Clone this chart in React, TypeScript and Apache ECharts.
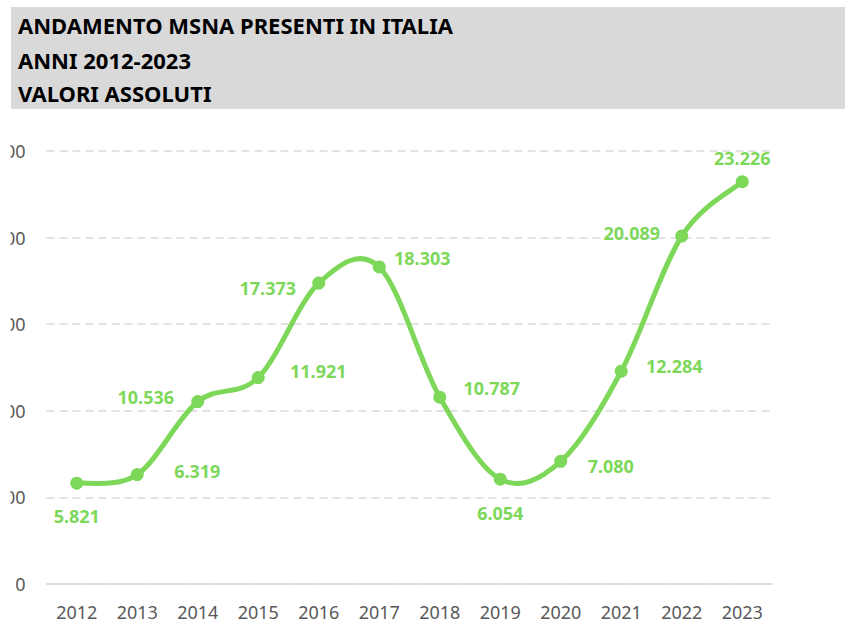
import React, { useEffect, useRef } from "react";
import * as echarts from "echarts";

const years = ["2012", "2013", "2014", "2015", "2016", "2017", "2018", "2019", "2020", "2021", "2022", "2023"];
const presenti = [5821, 6319, 10536, 11921, 17373, 18303, 10787, 6054, 7080, 12284, 20089, 23226];
const titleLines = ["ANDAMENTO MSNA PRESENTI IN ITALIA", "ANNI 2012-2023", "VALORI ASSOLUTI"];
// label offsets relative to the point (pixels)
const labelOffsets: [number, number][] = [
  [0, 33], [60, -4], [-52, -5], [60, -7], [-51, 5], [43, -9],
  [52, -9], [0, 34], [50, 5], [53, -5], [-50, -3], [0, -24],
];

const fmt = (v: number) => String(v).replace(/\B(?=(\d{3})+(?!\d))/g, ".");

export default function App() {
  const ref = useRef<HTMLDivElement>(null);
  useEffect(() => {
    if (!ref.current) return;
    const chart = echarts.init(ref.current, null, { renderer: "svg" });
    const green = "#7DD85A";
    chart.setOption({
      animation: false,
      backgroundColor: "#ffffff",
      grid: {
        left: 46.5,
        right: 72.5,
        top: 151,
        bottom: 40,
        containLabel: false,
        outerBoundsMode: "none",
      },
      xAxis: {
        type: "category",
        data: years,
        boundaryGap: true,
        axisLine: { show: true, lineStyle: { color: "#d9d9d9", width: 1.5 } },
        axisTick: { show: false },
        axisLabel: { color: "#595959", fontSize: 18, fontFamily: "Noto Sans", margin: 19 },
      },
      yAxis: {
        type: "value",
        min: 0,
        max: 25000,
        interval: 5000,
        axisLine: { show: false },
        axisTick: { show: false },
        axisLabel: {
          color: "#595959",
          fontSize: 18,
          fontFamily: "Noto Sans",
          margin: 21,
          formatter: (v: number) => fmt(v),
        },
        splitLine: { lineStyle: { color: "#d9d9d9", width: 1.5, type: [8, 5] } },
      },
      series: [
        {
          type: "custom",
          z: 2,
          clip: false,
          silent: true,
          data: [0],
          renderItem: (params: any, api: any) => {
            const pts = presenti.map((v, i) => api.coord([i, v]));
            const n = pts.length;
            const P = (k: number) => pts[Math.max(0, Math.min(n - 1, k))];
            let d = `M${pts[0][0]},${pts[0][1]}`;
            for (let i = 0; i < n - 1; i++) {
              const p0 = P(i - 1), p1 = P(i), p2 = P(i + 1), p3 = P(i + 2);
              const c1x = p1[0] + (p2[0] - p0[0]) / 6;
              const c1y = p1[1] + (p2[1] - p0[1]) / 6;
              const c2x = p2[0] - (p3[0] - p1[0]) / 6;
              const c2y = p2[1] - (p3[1] - p1[1]) / 6;
              d += ` C${c1x},${c1y} ${c2x},${c2y} ${p2[0]},${p2[1]}`;
            }
            return {
              type: "path",
              shape: { pathData: d },
              style: { stroke: green, fill: "none", lineWidth: 5, lineCap: "round", lineJoin: "round" },
            };
          },
        },
        {
          type: "line",
          z: 3,
          data: presenti.map((v, i) => ({
            value: v,
            label: {
              show: true,
              position: "inside",
              offset: labelOffsets[i],
            },
          })),
          symbol: "circle",
          symbolSize: 13,
          lineStyle: { color: green, width: 0, opacity: 0 },
          itemStyle: { color: green },
          label: {
            show: true,
            color: green,
            fontSize: 18,
            fontWeight: "bold",
            fontFamily: "Noto Sans",
            formatter: (p: any) => fmt(p.value),
          },
        },
      ],
      graphic: [
        {
          type: "rect",
          z: 100,
          shape: { x: 11, y: 7, width: 834, height: 102 },
          style: { fill: "#d9d9d9" },
        },
        ...titleLines.map((t, i) => ({
          type: "text",
          z: 101,
          x: 18,
          y: [25, 59.5, 92.5][i],
          style: {
            text: t,
            fill: "#000000",
            font: "bold 22px 'Noto Sans'",
            verticalAlign: "middle",
            align: "left",
          },
        })),
        {
          type: "rect",
          z: 100,
          shape: { x: 0, y: 120, width: 10.5, height: 480 },
          style: { fill: "#ffffff" },
        },
      ],
    });
    return () => chart.dispose();
  }, []);
  return (
    <div
      ref={ref}
      style={{ position: "absolute", left: 0, top: 0, width: 845, height: 624 }}
    />
  );
}
